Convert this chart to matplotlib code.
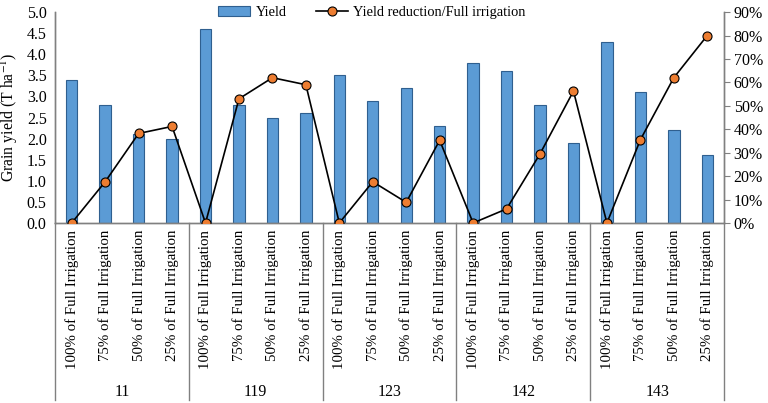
import numpy as np
import matplotlib
matplotlib.use('Agg')
import matplotlib.pyplot as plt
import matplotlib.transforms as mtransforms
from matplotlib.ticker import FuncFormatter

plt.rcParams['font.family'] = ['Liberation Serif', 'DejaVu Serif']
plt.rcParams['mathtext.fontset'] = 'stix'

# data
cultivars = ['11', '119', '123', '142', '143']
treatments = ['100% of Full Irrigation', '75% of Full Irrigation',
              '50% of Full Irrigation', '25% of Full Irrigation']
yield_vals = [3.4, 2.8, 2.1, 2.0,
              4.6, 2.8, 2.5, 2.6,
              3.5, 2.9, 3.2, 2.3,
              3.8, 3.6, 2.8, 1.9,
              4.3, 3.1, 2.2, 1.6]
reduction = [0.0, 17.6, 38.2, 41.2,
             0.0, 53.0, 62.0, 59.0,
             0.0, 17.6, 8.8, 35.3,
             0.0, 6.0, 29.5, 56.3,
             0.0, 35.5, 62.0, 80.0]

n = len(yield_vals)
x = np.arange(n)
labels = treatments * len(cultivars)

fig = plt.figure(figsize=(7.68, 4.03), dpi=100)
ax = fig.add_axes([0.0716, 0.4467, 0.8711, 0.5233])
ax2 = ax.twinx()

bars = ax.bar(x, yield_vals, width=0.34, color='#5B9BD5', edgecolor='#2F5F8F',
              linewidth=0.8, label='Yield', zorder=2)
line, = ax2.plot(x, reduction, color='black', lw=1.2, marker='o', ms=6.5,
                 mfc='#ED7D31', mec='black', mew=0.8,
                 label='Yield reduction/Full irrigation', zorder=3)

ax.set_xlim(-0.5, n - 0.5)
ax.set_ylim(0, 5)
ax.set_yticks(np.arange(0, 5.01, 0.5))
ax.yaxis.set_major_formatter(FuncFormatter(lambda v, p: f'{v:.1f}'))
ax2.set_ylim(0, 90)
ax2.set_yticks(np.arange(0, 91, 10))
ax2.yaxis.set_major_formatter(FuncFormatter(lambda v, p: f'{v:.0f}%'))

ax.set_xticks(x)
ax.set_xticklabels(labels, rotation=90, fontsize=10.7)
ax.tick_params(axis='x', length=0, pad=5)
ax.tick_params(axis='y', length=0, labelsize=11.5, pad=6)
ax2.tick_params(axis='y', length=4, direction='out', color='#808080', labelsize=11.5, pad=3)

for a in (ax, ax2):
    a.spines['top'].set_visible(False)
    for s in ('left', 'right', 'bottom'):
        a.spines[s].set_color('#808080')
        a.spines[s].set_linewidth(1.0)

ax.set_ylabel('Grain yield (T ha$^{-1}$)', fontsize=11.3, labelpad=5)

# group separators and labels below the axis
trans = mtransforms.blended_transform_factory(ax.transData, ax.transAxes)
for b in [-0.5, 3.5, 7.5, 11.5, 15.5, 19.5]:
    ax.plot([b, b], [0, -0.84], transform=trans, color='#808080', lw=1.0,
            clip_on=False)
for i, c in enumerate(cultivars):
    ax.text(4 * i + 1.5, -0.80, c, transform=trans, ha='center', va='center',
            fontsize=11.5)

ax.legend([bars, line], ['Yield', 'Yield reduction/Full irrigation'],
          loc='center', bbox_to_anchor=(0.474, 1.0), ncol=2, frameon=False,
          fontsize=10.4, handlelength=2.2, columnspacing=2.0, handletextpad=0.4)

fig.savefig('out.png', dpi=100)
